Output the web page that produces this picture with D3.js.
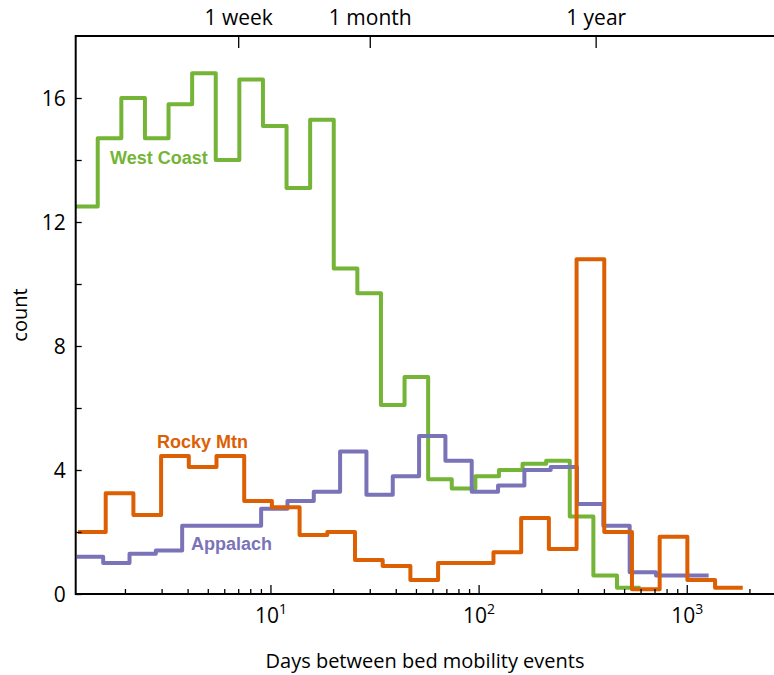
<!DOCTYPE html>
<html lang="en">
<head>
  <meta charset="UTF-8">
  <title>Days between bed mobility events</title>
  <script src="https://d3js.org/d3.v7.min.js"></script>
  <style>
    body { margin: 0; background: #fff; }
    svg { display: block; }
    .axis-text { font-family: 'Open Sans', sans-serif; font-size: 21px; fill: #000; }
    .series-label { font-family: 'Liberation Sans', Arial, sans-serif; font-weight: bold; font-size: 18px; }
    .step { fill: none; stroke-width: 4; stroke-linejoin: round; }
  </style>
</head>
<body>
  <div id="chart"></div>

  <script>
    // histogram counts, 24 log-spaced bins per region
    const westCounts = [12.5, 14.7, 16.0, 14.7, 15.8, 16.8, 14.0, 16.6, 15.1, 13.1, 15.3, 10.5,
                        9.7, 6.1, 7.0, 3.7, 3.4, 3.8, 4.0, 4.2, 4.3, 2.5, 0.6, 0.2];
    const rockyCounts = [2.0, 3.25, 2.55, 4.45, 4.1, 4.45, 3.0, 2.8, 1.9, 2.0, 1.1, 0.9,
                         0.45, 1.0, 1.0, 1.35, 2.45, 1.45, 10.8, 2.0, 0.15, 1.85, 0.45, 0.2];
    const appalachCounts = [1.2, 1.0, 1.3, 1.4, 2.2, 2.2, 2.2, 2.75, 3.0, 3.3, 4.6, 3.2,
                            3.8, 5.1, 4.3, 3.3, 3.5, 4.0, 4.1, 2.9, 2.2, 0.7, 0.6, 0.6];

    // first and last bin edge (days) of each histogram
    const westRange = [1.14, 600];
    const rockyRange = [1.19, 1858];
    const appalachRange = [1.175, 1274];

    const yTicks = [0, 2, 4, 6, 8, 10, 12, 14, 16];
    const topTicks = [7, 30, 365];
    const topLabels = ["1 week", "1 month", "1 year"];
    const decades = [10, 100, 1000];

    const width = 774, height = 675;
    const pLeft = 75.7, pTop = 36, pBottom = 594, pRight = 774;

    const svg = d3.select("#chart").append("svg")
      .attr("width", width)
      .attr("height", height);

    const x = d3.scaleLog().domain([1.16, 2625]).range([pLeft, pRight]);
    const y = d3.scaleLinear().domain([0, 18]).range([pBottom, pTop]);

    svg.append("clipPath").attr("id", "plot-clip")
      .append("rect")
      .attr("x", pLeft).attr("y", pTop - 5)
      .attr("width", pRight - pLeft).attr("height", pBottom - pTop + 10);

    const series = [
      { name: "West Coast", counts: westCounts, range: westRange, color: "#74b436", lx: 110, ly: 164 },
      { name: "Appalach", counts: appalachCounts, range: appalachRange, color: "#7a73b8", lx: 191, ly: 550 },
      { name: "Rocky Mtn", counts: rockyCounts, range: rockyRange, color: "#dc6003", lx: 157, ly: 448 }
    ];

    const line = d3.line()
      .x(d => x(d[0]))
      .y(d => y(d[1]))
      .curve(d3.curveStepAfter);

    const plot = svg.append("g").attr("clip-path", "url(#plot-clip)");

    series.forEach(s => {
      const n = s.counts.length;
      const l0 = Math.log10(s.range[0]), l1 = Math.log10(s.range[1]);
      const edges = d3.range(n + 1).map(i => Math.pow(10, l0 + (l1 - l0) * i / n));
      const pts = s.counts.map((c, i) => [edges[i], c]);
      pts.push([edges[n], s.counts[n - 1]]);
      plot.append("path")
        .attr("class", "step")
        .attr("stroke", s.color)
        .attr("d", line(pts));
    });

    series.forEach(s => {
      svg.append("text")
        .attr("class", "series-label")
        .attr("x", s.lx).attr("y", s.ly)
        .attr("fill", s.color)
        .text(s.name);
    });

    // frame
    const frame = svg.append("g").attr("stroke", "#000").attr("stroke-width", 2).attr("fill", "none");
    frame.append("line").attr("x1", pLeft).attr("x2", pRight).attr("y1", pTop).attr("y2", pTop);
    frame.append("line").attr("x1", pLeft).attr("x2", pRight).attr("y1", pBottom).attr("y2", pBottom);
    frame.append("line").attr("x1", pLeft).attr("x2", pLeft).attr("y1", pTop - 1).attr("y2", pBottom + 1);

    // bottom axis: minor ticks
    const minor = [];
    [1, 10, 100, 1000].forEach(k => d3.range(2, 10).forEach(m => {
      const v = m * k;
      if (v > x.domain()[0] && v < x.domain()[1]) minor.push(v);
    }));
    svg.append("g")
      .attr("transform", `translate(0,${pBottom})`)
      .call(d3.axisBottom(x).tickValues(minor).tickSize(-5).tickFormat(""))
      .call(g => g.select(".domain").remove())
      .call(g => g.selectAll("line").attr("stroke-width", 1.3));

    const major = svg.append("g")
      .attr("transform", `translate(0,${pBottom})`)
      .call(d3.axisBottom(x).tickValues(decades).tickSize(-9).tickFormat(""))
      .call(g => g.select(".domain").remove())
      .call(g => g.selectAll("line").attr("stroke-width", 1.3));

    major.selectAll(".tick").append("text")
      .attr("class", "axis-text")
      .attr("y", 29)
      .attr("text-anchor", "middle")
      .each(function(d) {
        const t = d3.select(this);
        t.append("tspan").text("10");
        t.append("tspan").attr("dy", -9).style("font-size", "14px").text(Math.round(Math.log10(d)));
      });

    // top axis: time landmarks
    const topAxis = svg.append("g")
      .attr("transform", `translate(0,${pTop})`)
      .call(d3.axisTop(x).tickValues(topTicks).tickSize(-12).tickFormat(""))
      .call(g => g.select(".domain").remove())
      .call(g => g.selectAll("line").attr("stroke-width", 1.3));

    topAxis.selectAll(".tick").append("text")
      .attr("class", "axis-text")
      .attr("y", -11)
      .attr("text-anchor", "middle")
      .text((d, i) => topLabels[i]);

    // left axis
    svg.append("g")
      .attr("transform", `translate(${pLeft},0)`)
      .call(d3.axisLeft(y).tickValues(yTicks).tickSize(-6).tickPadding(10)
        .tickFormat(d => d % 4 === 0 ? d : ""))
      .call(g => g.select(".domain").remove())
      .call(g => g.selectAll("line").attr("stroke-width", 1.3))
      .call(g => g.selectAll("text").attr("class", "axis-text").attr("dy", "0.35em"));

    svg.append("text")
      .attr("class", "axis-text")
      .attr("transform", `translate(27,${(pTop + pBottom) / 2}) rotate(-90)`)
      .attr("text-anchor", "middle")
      .style("font-size", "20px")
      .text("count");

    svg.append("text")
      .attr("class", "axis-text")
      .attr("x", 425).attr("y", 668)
      .attr("text-anchor", "middle")
      .style("font-size", "20px")
      .text("Days between bed mobility events");
  </script>
</body>
</html>
